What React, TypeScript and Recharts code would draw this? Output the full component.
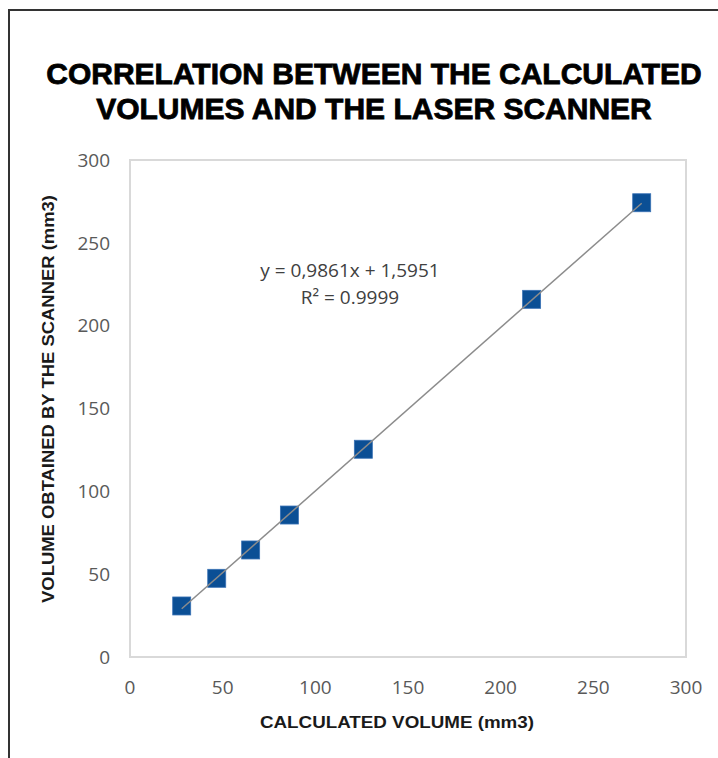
import React from "react";
import {
  ScatterChart,
  Scatter,
  XAxis,
  YAxis,
  ReferenceArea,
  Customized,
} from "recharts";

const calculatedVolume = [27.9, 46.8, 65.1, 86.0, 125.9, 216.7, 276.1];
const scannerVolume = [30.8, 47.5, 64.6, 85.7, 125.4, 215.9, 274.2];
const trendX = [27.9, 276.1];
const trendY = [29.1, 273.9];
const axisTicks = [0, 50, 100, 150, 200, 250, 300];
const titleLines = ["CORRELATION BETWEEN THE CALCULATED", "VOLUMES AND THE LASER SCANNER"];
const equationLines = ["y = 0,9861x + 1,5951", "R² = 0.9999"];
const xAxisTitle = "CALCULATED VOLUME (mm3)";
const yAxisTitle = "VOLUME OBTAINED BY THE SCANNER (mm3)";

const points = calculatedVolume.map((x, i) => ({ x, y: scannerVolume[i] }));
const trend = trendX.map((x, i) => ({ x, y: trendY[i] }));

const tickStyle = { fontFamily: "'Open Sans', sans-serif", fontSize: 19, fill: "#595959" };

const SquareMarker = (props: any) => {
  const { cx, cy } = props;
  if (cx == null || cy == null) return <g />;
  return (
    <rect x={cx - 9} y={cy - 9} width={18} height={18} fill="#0b4f95" stroke="#3a72b5" strokeWidth={0.8} />
  );
};

const Overlay = () => (
  <g>
    <line x1={8} y1={10} x2={718} y2={10} stroke="#333" strokeWidth={2} />
    <line x1={9} y1={10} x2={9} y2={758} stroke="#333" strokeWidth={2} />
    {titleLines.map((t, i) => (
      <text
        key={t}
        x={374}
        y={84 + i * 35}
        textAnchor="middle"
        fontFamily="'Liberation Sans', Arial, sans-serif"
        fontWeight="bold"
        fontSize={30}
        fill="#000"
        stroke="#000"
        strokeWidth={0.8}
      >
        {t}
      </text>
    ))}
    {equationLines.map((t, i) => (
      <text
        key={t}
        x={350}
        y={277 + i * 27}
        textAnchor="middle"
        fontFamily="'Open Sans', sans-serif"
        fontSize={19}
        fill="#404040"
      >
        {t}
      </text>
    ))}
    <text
      x={397}
      y={728}
      textAnchor="middle"
      fontFamily="'Liberation Sans', Arial, sans-serif"
      fontWeight="bold"
      fontSize={16}
      fill="#1a1a1a"
      textLength={274}
      lengthAdjust="spacingAndGlyphs"
    >
      {xAxisTitle}
    </text>
    <text
      x={0}
      y={0}
      transform="translate(54 399) rotate(-90)"
      textAnchor="middle"
      fontFamily="'Liberation Sans', Arial, sans-serif"
      fontWeight="bold"
      fontSize={16}
      fill="#1a1a1a"
      textLength={408}
      lengthAdjust="spacingAndGlyphs"
    >
      {yAxisTitle}
    </text>
  </g>
);

export default function App() {
  return (
    <div style={{ position: "absolute", left: 0, top: 0, width: 718, height: 758, background: "#fff" }}>
      <ScatterChart width={718} height={758} margin={{ top: 160, right: 32, bottom: 61, left: 70 }}>
        <XAxis
          type="number"
          dataKey="x"
          domain={[0, 300]}
          ticks={axisTicks}
          axisLine={false}
          tickLine={false}
          tick={tickStyle}
          tickMargin={18}
          height={40}
          allowDataOverflow
        />
        <YAxis
          type="number"
          dataKey="y"
          domain={[0, 300]}
          ticks={axisTicks}
          axisLine={false}
          tickLine={false}
          tick={tickStyle}
          tickMargin={14}
          width={60}
          allowDataOverflow
        />
        <ReferenceArea x1={0} x2={300} y1={0} y2={300} fill="none" stroke="#d9d9d9" strokeWidth={2} fillOpacity={0} />
        <Scatter data={points} shape={<SquareMarker />} isAnimationActive={false} />
        <Scatter
          data={trend}
          line={{ stroke: "#8c8c8c", strokeWidth: 1.5 }}
          shape={() => <g />}
          isAnimationActive={false}
        />
        <Customized component={Overlay} />
      </ScatterChart>
    </div>
  );
}
